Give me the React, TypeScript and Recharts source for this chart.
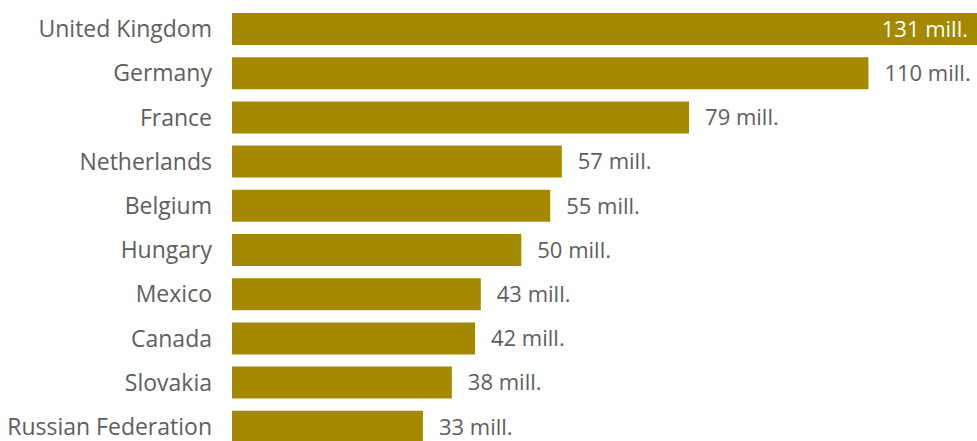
import React from 'react';
import { BarChart, Bar, XAxis, YAxis, LabelList } from 'recharts';

const countries = [
  'United Kingdom',
  'Germany',
  'France',
  'Netherlands',
  'Belgium',
  'Hungary',
  'Mexico',
  'Canada',
  'Slovakia',
  'Russian Federation',
];
const values = [131, 110, 79, 57, 55, 50, 43, 42, 38, 33];

const data = countries.map((country, i) => ({ country, value: values[i] }));

const gold = '#a48800';
const textColor = '#605e5c';
const font = '"Open Sans", "Noto Sans", sans-serif';
const visibleRight = 977;

const ValueLabel = (props: any) => {
  const { x, y, width, height, value } = props;
  const end = x + width;
  const cy = y + height / 2;
  const text = `${value} mill.`;
  if (end > visibleRight - 80) {
    return (
      <text x={Math.min(end, visibleRight) - 9} y={cy} dy="0.35em" textAnchor="end" fill="#ffffff" fontSize={22} fontFamily={font}>
        {text}
      </text>
    );
  }
  return (
    <text x={end + 16} y={cy} dy="0.35em" textAnchor="start" fill={textColor} fontSize={22} fontFamily={font}>
      {text}
    </text>
  );
};

const App = () => {
  return (
    <div style={{ position: 'absolute', top: 0, left: 0, width: 977, height: 441, overflow: 'hidden', background: '#fff' }}>
      <BarChart
        width={1042}
        height={449}
        data={data}
        layout="vertical"
        margin={{ top: 7, right: 0, bottom: 0, left: 0 }}
      >
        <XAxis type="number" domain={[0, 140]} hide />
        <YAxis
          type="category"
          dataKey="country"
          width={232}
          axisLine={false}
          tickLine={false}
          tickSize={0}
          tickMargin={20}
          tick={{ fill: textColor, fontSize: 23, fontFamily: font }}
        />
        <Bar dataKey="value" fill={gold} barSize={32} isAnimationActive={false}>
          <LabelList dataKey="value" content={ValueLabel} />
        </Bar>
      </BarChart>
    </div>
  );
};

export default App;
